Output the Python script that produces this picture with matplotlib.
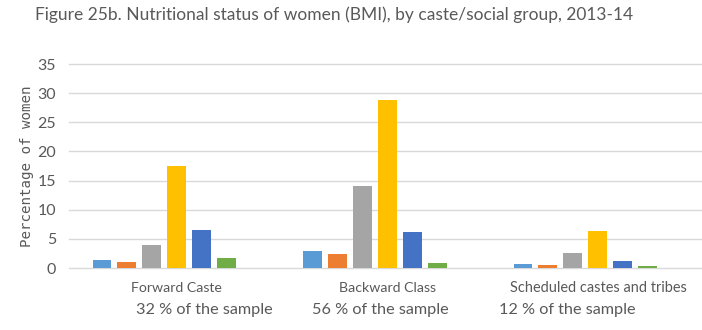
import numpy as np
import matplotlib.pyplot as plt
import matplotlib.transforms as mtransforms

# data
categories = ["Forward Caste", "Backward Class", "Scheduled castes and tribes"]
sample_labels = ["32 % of the sample", "56 % of the sample", "12 % of the sample"]
series_1 = [1.3, 2.9, 0.75]
series_2 = [1.0, 2.35, 0.5]
series_3 = [3.9, 14.0, 2.6]
series_4 = [17.5, 28.9, 6.3]
series_5 = [6.5, 6.1, 1.25]
series_6 = [1.7, 0.8, 0.3]
series = [series_1, series_2, series_3, series_4, series_5, series_6]
colors = ["#5B9BD5", "#ED7D31", "#A5A5A5", "#FFC000", "#4472C4", "#70AD47"]
yticks = [0, 5, 10, 15, 20, 25, 30, 35]

grey = "#595959"
W, H = 702, 330
fig = plt.figure(figsize=(W / 100, H / 100), dpi=100)
ax = fig.add_axes([69 / W, 62 / H, (W - 69) / W, 204 / H])

x = np.arange(len(categories))
step = 0.1185
bar_w = 0.09
for j, (vals, c) in enumerate(zip(series, colors)):
    ax.bar(x + (j - 2.5) * step, vals, width=bar_w, color=c, zorder=3)

ax.set_xlim(-0.453, 2.554)
ax.set_ylim(0, 35)
ax.set_yticks(yticks)
ax.grid(axis="y", color="#D9D9D9", linewidth=1.0, zorder=0)
for ln in ax.get_ygridlines():
    ln.set_clip_on(False)
for s in ax.spines.values():
    s.set_visible(False)
ax.tick_params(axis="both", length=0)
ax.tick_params(axis="y", pad=9.4, labelsize=11.5, labelcolor=grey)
for t in ax.get_yticklabels():
    t.set_family(["Lato", "DejaVu Sans"])
ax.set_xticks([])

fig.text(27 / W, 1 - 166 / H, "Percentage of women", rotation=90,
         ha="center", va="center", color=grey, fontsize=10.2,
         family=["DejaVu Sans Mono"])

renderer = fig.canvas.get_renderer()


def fit(txt, target_px):
    w = txt.get_window_extent(renderer).width
    txt.set_fontsize(txt.get_fontsize() * target_px / w)


trans = mtransforms.blended_transform_factory(ax.transData, ax.transAxes)
cat_x = [0.055, 1.06, 2.06]
cat_w = [91, 97, 177]
for cx, lab, tw in zip(cat_x, categories, cat_w):
    t = ax.text(cx, (268 - 288) / 204, lab, transform=trans, ha="center",
                va="center", color=grey, fontsize=10, family=["Lato", "DejaVu Sans"])
    fit(t, tw)

sample_x = [0.188, 1.024, 1.913]
for sx, lab in zip(sample_x, sample_labels):
    t = ax.text(sx, (268 - 310) / 204, lab, transform=trans, ha="center",
                va="center", color=grey, fontsize=11, family=["Lato", "DejaVu Sans"])
    fit(t, 137)

title = fig.text(35 / W, 1 - 20 / H,
                 "Figure 25b. Nutritional status of women (BMI), by caste/social group, 2013-14",
                 ha="left", va="baseline", color=grey, fontsize=12,
                 family=["Lato", "DejaVu Sans"])
fit(title, 595)

fig.savefig("out.png", dpi=100)
